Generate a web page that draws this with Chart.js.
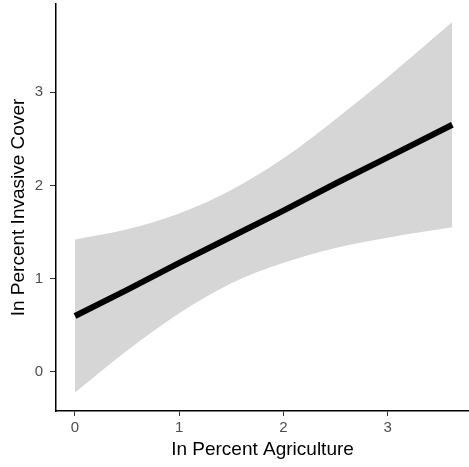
<!DOCTYPE html>
<html>
<head>
<meta charset="utf-8">
<script src="https://cdn.jsdelivr.net/npm/chart.js@4/dist/chart.umd.min.js"></script>
<style>
  html, body { margin: 0; padding: 0; background: #fff; }
  #plot { display: block; }
</style>
</head>
<body>
<canvas id="plot" width="469" height="467"></canvas>
<script>
// values
const xValues = [0, 0.5, 1, 1.5, 2, 2.5, 3, 3.62];
const fitValues = [0.60, 0.88, 1.17, 1.45, 1.73, 2.02, 2.30, 2.65];
const upperValues = [1.42, 1.53, 1.70, 1.95, 2.29, 2.71, 3.16, 3.75];
const lowerValues = [-0.22, 0.23, 0.63, 0.95, 1.17, 1.33, 1.44, 1.55];
const xTicks = [0, 1, 2, 3];
const yTicks = [0, 1, 2, 3];

function toPoints(ys) {
    let pts = [];
    for (let i = 0; i < xValues.length; i++) {
        pts.push({ x: xValues[i], y: ys[i] });
    }
    return pts;
}

function noEdgePadding(scale) {
    scale.paddingTop = 0;
    scale.paddingBottom = 0;
    scale.paddingLeft = 0;
    scale.paddingRight = 0;
}

const tickFont = { family: 'Liberation Sans, Arial, sans-serif', size: 15 };
const titleFont = { family: 'Liberation Sans, Arial, sans-serif', size: 19 };

const ctx = document.getElementById('plot');
const chart = new Chart(ctx, {
    type: 'line',
    data: {
        datasets: [{
            label: 'lower',
            data: toPoints(lowerValues),
            borderWidth: 0,
            pointRadius: 0,
            fill: false,
            order: 1,
            cubicInterpolationMode: 'monotone'
        }, {
            label: 'upper',
            data: toPoints(upperValues),
            borderWidth: 0,
            pointRadius: 0,
            fill: '-1',
            backgroundColor: '#d6d6d6',
            order: 1,
            cubicInterpolationMode: 'monotone'
        }, {
            label: 'fit',
            data: toPoints(fitValues),
            borderColor: '#000',
            borderWidth: 6,
            pointRadius: 0,
            order: 0,
            fill: false
        }]
    },
    options: {
        responsive: false,
        animation: false,
        events: [],
        layout: { padding: { top: 4, right: 0, bottom: 0, left: 0 } },
        plugins: {
            legend: { display: false },
            tooltip: { enabled: false }
        },
        scales: {
            x: {
                type: 'linear',
                min: -0.182,
                max: 3.78,
                afterBuildTicks: function (scale) {
                    scale.ticks = xTicks.map(v => ({ value: v }));
                },
                afterFit: function (scale) {
                    scale.height = 56;
                    noEdgePadding(scale);
                },
                grid: { drawOnChartArea: false, drawTicks: true, tickLength: 5, color: '#333', lineWidth: 1 },
                border: { display: true, color: '#000', width: 1.5 },
                ticks: { font: tickFont, color: '#4d4d4d', padding: 3, maxRotation: 0 },
                title: { display: true, text: 'In Percent Agriculture', font: titleFont, color: '#000', padding: { top: 0, bottom: 6 } }
            },
            y: {
                type: 'linear',
                min: -0.418,
                max: 3.944,
                afterBuildTicks: function (scale) {
                    scale.ticks = yTicks.map(v => ({ value: v }));
                },
                afterFit: function (scale) {
                    scale.width = 56;
                    noEdgePadding(scale);
                },
                grid: { drawOnChartArea: false, drawTicks: true, tickLength: 6, color: '#333', lineWidth: 1 },
                border: { display: true, color: '#000', width: 1.5 },
                ticks: { font: tickFont, color: '#4d4d4d', padding: 7 },
                title: { display: true, text: 'In Percent Invasive Cover', font: titleFont, color: '#000', padding: { top: 7, bottom: 0 } }
            }
        }
    }
});
</script>
</body>
</html>
